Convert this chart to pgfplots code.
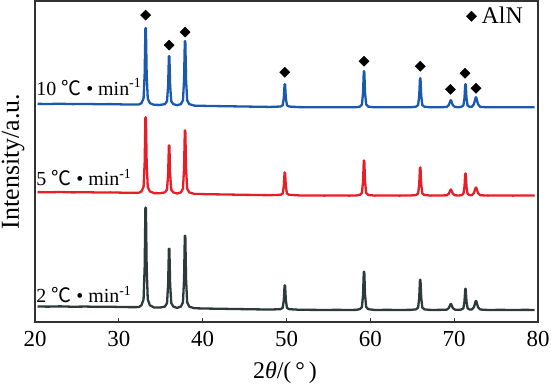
\documentclass[border=0pt]{standalone}
\usepackage{pgfplots}
\usepackage{pgfplotstable}
\pgfplotsset{compat=1.18}
\usepackage{fontspec}
\setmainfont{Liberation Serif}
\newfontfamily\cjk{Noto Sans CJK SC}
\definecolor{cblue}{RGB}{25,90,175}
\definecolor{cred}{RGB}{230,30,40}
\definecolor{cgray}{RGB}{45,58,58}

\pgfplotstableread{
x g r b
20.3 3.5 3.5 3.5
21.5 3.3 3.3 3.3
23 3.6 3.6 3.6
24.5 3.2 3.2 3.2
26 3.4 3.4 3.4
27.5 3.1 3.1 3.1
29 3.2 3.2 3.2
30.5 2.9 2.9 2.9
31.8 2.8 2.8 2.8
32.4 2.9 2.9 2.9
32.7 4.7 4.2 4.2
32.95 10.6 8.7 8.8
33.08 42.4 32.8 33.2
33.17 102 78 79
33.23 102 78 79
33.32 42.4 32.8 33.2
33.45 10.6 8.7 8.8
33.7 4.7 4.2 4.2
34.2 2.5 2.5 2.5
34.9 2.4 2.4 2.4
35.5 3.4 3.2 3.2
35.75 6.9 6.0 6.1
35.88 25.7 21.3 21.7
35.97 61 50 51
36.03 61 50 51
36.12 25.7 21.3 21.7
36.25 6.9 6.0 6.1
36.5 3.4 3.2 3.2
36.95 2.1 2.1 2.1
37.4 3.3 3.2 3.2
37.65 7.7 6.9 7.0
37.78 30.7 27.1 27.5
37.87 74 65 66
37.93 74 65 66
38.02 30.7 27.1 27.5
38.15 7.7 6.9 7.0
38.4 3.3 3.2 3.2
39 1.7 1.7 1.7
40.5 1.4 1.4 1.4
42 1.2 1.2 1.2
43.5 1.0 1.0 1.0
45 0.8 0.8 0.8
46.5 0.6 0.6 0.6
48 0.4 0.4 0.4
49.3 0.8 0.8 0.8
49.55 2.2 2.1 2.1
49.68 10.0 9.4 9.4
49.77 24.5 23 23
49.83 24.5 23 23
49.92 10.0 9.4 9.4
50.05 2.2 2.1 2.1
50.3 0.8 0.8 0.8
51.5 0.2 0.2 0.2
53 0.1 0.1 0.1
54.5 0 0 0
56 0.1 0.1 0.1
57.5 0 0 0
58.3 0.1 0.1 0.1
58.75 0.8 0.7 0.7
59.0 3.0 2.8 2.9
59.13 15.2 14 14.4
59.22 38 35 36
59.28 38 35 36
59.37 15.2 14 14.4
59.5 3.0 2.8 2.9
59.75 0.8 0.7 0.7
60.5 0 0 0
62 0.1 0.1 0.1
63.5 0 0 0
64.8 0.1 0.1 0.1
65.45 0.6 0.6 0.6
65.7 2.4 2.2 2.3
65.83 12 11.2 11.6
65.92 30 28 29
65.98 30 28 29
66.07 12 11.2 11.6
66.2 2.4 2.2 2.3
66.45 0.6 0.6 0.6
67.2 0 0 0
68.4 0.1 0.1 0.1
69.1 0.3 0.3 0.35
69.35 1.8 1.8 2.1
69.48 4.2 4.2 4.9
69.57 6 6 7
69.63 6 6 7
69.72 4.2 4.2 4.9
69.85 1.8 1.8 2.1
70.1 0.3 0.3 0.35
70.5 0.1 0.1 0.1
70.85 0.4 0.4 0.5
71.1 1.7 1.8 1.8
71.23 8.4 8.8 9.2
71.32 21 22 23
71.38 21 22 23
71.47 8.4 8.8 9.2
71.6 1.7 1.8 1.8
71.85 0.4 0.4 0.5
72.1 0.45 0.4 0.5
72.35 2.7 2.4 3
72.48 6.3 5.6 7
72.57 9 8 10
72.63 9 8 10
72.72 6.3 5.6 7
72.85 2.7 2.4 3
73.1 0.45 0.4 0.5
74 0 0 0
75.5 0.1 0.1 0.1
77 0 0 0
78.5 0.1 0.1 0.1
79.6 0 0 0
}\xrd

\begin{document}
\begin{tikzpicture}
\begin{axis}[
  scale only axis, width=503bp, height=321bp,
  xmin=20, xmax=80, ymin=-12, ymax=308,
  xtick={20,30,...,80}, ytick=\empty,
  xtick pos=left, tick align=inside, major tick length=4bp,
  axis line style={black!80, line width=1.2bp},
  every tick/.style={black!80, line width=1bp},
  ticklabel style={font=\fontsize{23}{26}\selectfont},
  xticklabel style={yshift=-6bp},
  /pgf/number format/assume math mode=true,
  xlabel={2\textit{θ}/(\,°\,)},
  xlabel style={at={(axis description cs:0.497,0)}, anchor=base, yshift=-56bp, font=\fontsize{24}{26}\selectfont},
  ylabel={Intensity/a.u.},
  ylabel style={at={(axis description cs:-0.032,0.5)}, anchor=base, rotate=0, font=\fontsize{26}{28}\selectfont},
  legend style={at={(1,1)}, anchor=north east, xshift=-10bp, yshift=-2bp, draw=none, fill=none, font=\fontsize{24}{26}\selectfont,
    /tikz/every odd column/.append style={column sep=3bp}},
  legend cell align=left,
]
\addplot[cgray, line width=2.3bp, line join=round, forget plot] table[x=x, y=g]{\xrd};
\addplot[cred, line width=2.3bp, line join=round, forget plot] table[x=x, y expr=\thisrow{r}+114]{\xrd};
\addplot[cblue, line width=2.3bp, line join=round, forget plot] table[x=x, y expr=\thisrow{b}+202]{\xrd};
\addplot[only marks, mark=square*, mark size=3.6bp, mark options={rotate=45, fill=black, draw=black}]
  coordinates {(33.2,294) (36.0,264) (37.9,277) (49.8,237) (59.25,248) (65.95,243) (69.55,220) (71.3,236) (72.6,221)};
\addlegendentry{AlN}
\node[anchor=base west, inner sep=0, font=\fontsize{20}{22}\selectfont] at (axis cs:20.15,214) {10 {\cjk ℃} • min\textsuperscript{-1}};
\node[anchor=base west, inner sep=0, font=\fontsize{20}{22}\selectfont] at (axis cs:20.15,124) {5 {\cjk ℃} • min\textsuperscript{-1}};
\node[anchor=base west, inner sep=0, font=\fontsize{20}{22}\selectfont] at (axis cs:20.15,7) {2 {\cjk ℃} • min\textsuperscript{-1}};
\end{axis}
\pgfresetboundingbox
\path[use as bounding box] (-35bp,-62bp) rectangle (516bp,322bp);
\end{tikzpicture}
\end{document}
